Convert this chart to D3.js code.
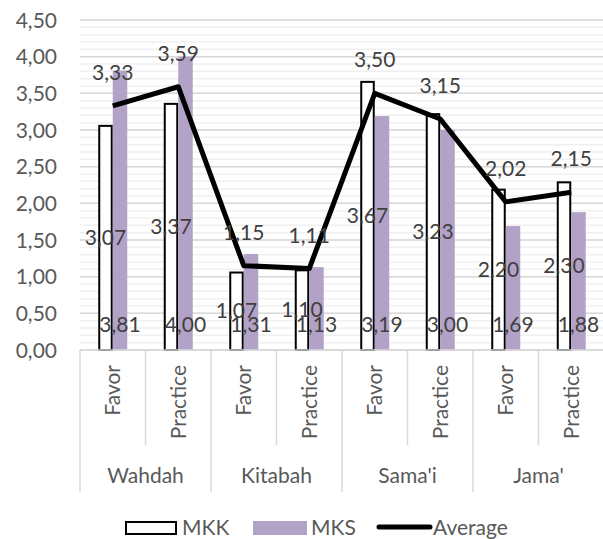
<!DOCTYPE html>
<html>
<head>
<meta charset="utf-8">
<script src="https://cdn.jsdelivr.net/npm/d3@7"></script>
<style>
  body { margin: 0; background: #fff; }
  text { font-family: Lato, "Open Sans", sans-serif; }
</style>
</head>
<body>
<div class="canva"></div>
<script>
// data
const groups = ["Wahdah", "Kitabah", "Sama'i", "Jama'"];
const subs = ["Favor", "Practice"];
const mkk = [3.07, 3.37, 1.07, 1.10, 3.67, 3.23, 2.20, 2.30];
const mks = [3.81, 4.00, 1.31, 1.13, 3.19, 3.00, 1.69, 1.88];
const avg = [3.33, 3.59, 1.15, 1.11, 3.50, 3.15, 2.02, 2.15];
const yTicks = [0, 0.5, 1, 1.5, 2, 2.5, 3, 3.5, 4, 4.5];

// one entry per category slot
const cats = [];
groups.forEach((g, gi) => subs.forEach((s, si) => cats.push({
  key: g + "|" + s, group: g, sub: s, i: gi * 2 + si
})));

const fmt = v => d3.format(".2f")(v).replace(".", ",");

const svg = d3.select(".canva").append("svg")
              .attr("width", 603)
              .attr("height", 539);

// scales
const x = d3.scaleBand().domain(cats.map(d => d.key)).range([80, 604]);
const y = d3.scaleLinear().domain([0, 4.5]).range([350, 20]);
const barW = 14.5;
const cx = i => x(cats[i].key) + x.bandwidth() / 2;

// minor grid every 0.1
svg.append("g").selectAll("line")
   .data(d3.range(0, 46).map(d => d / 10))
   .enter().append("line")
   .attr("x1", 80).attr("x2", 603)
   .attr("y1", d => y(d)).attr("y2", d => y(d))
   .attr("stroke", "#f0f0f0").attr("stroke-width", 1.5);

// major grid
svg.append("g").selectAll("line")
   .data(yTicks)
   .enter().append("line")
   .attr("x1", 80).attr("x2", 603)
   .attr("y1", d => y(d)).attr("y2", d => y(d))
   .attr("stroke", "#d9d9d9").attr("stroke-width", 1.5);

// y axis labels
svg.append("g").selectAll("text")
   .data(yTicks)
   .enter().append("text")
   .text(d => fmt(d))
   .attr("x", 57)
   .attr("y", d => y(d))
   .attr("dy", "0.36em")
   .attr("text-anchor", "end")
   .attr("font-size", 21)
   .attr("fill", "#595959");

// category separators
svg.append("g").selectAll("line")
   .data(d3.range(0, 9))
   .enter().append("line")
   .attr("x1", d => 80 + d * x.bandwidth())
   .attr("x2", d => 80 + d * x.bandwidth())
   .attr("y1", 350)
   .attr("y2", d => d % 2 === 0 ? 492 : 445)
   .attr("stroke", "#d9d9d9").attr("stroke-width", 1.5);

// MKK bars
svg.append("g").selectAll("rect")
   .data(mkk)
   .enter().append("rect")
   .attr("x", (d, i) => cx(i) - barW + 1)
   .attr("y", d => y(d) + 1)
   .attr("width", barW - 2)
   .attr("height", d => y(0) - y(d) - 1)
   .attr("fill", "#fff")
   .attr("stroke", "#000")
   .attr("stroke-width", 2);

// MKS bars
svg.append("g").selectAll("rect")
   .data(mks)
   .enter().append("rect")
   .attr("x", (d, i) => cx(i))
   .attr("y", d => y(d))
   .attr("width", barW)
   .attr("height", d => y(0) - y(d))
   .attr("fill", "#b3a2c7");

// x axis line
svg.append("line")
   .attr("x1", 80).attr("x2", 603)
   .attr("y1", 350).attr("y2", 350)
   .attr("stroke", "#d9d9d9").attr("stroke-width", 1.5);

// average line
const line = d3.line().x((d, i) => cx(i)).y(d => y(d));
svg.append("path")
   .datum(avg)
   .attr("d", line)
   .attr("fill", "none")
   .attr("stroke", "#000")
   .attr("stroke-width", 5)
   .attr("stroke-linejoin", "round");

// data labels
const lab = svg.append("g")
               .attr("font-size", 21)
               .attr("fill", "#404040")
               .attr("text-anchor", "middle");

lab.selectAll(".lk").data(mkk).enter().append("text")
   .text(d => fmt(d))
   .attr("x", (d, i) => cx(i) - barW / 2)
   .attr("y", d => y(d / 2))
   .attr("dy", "0.36em");

lab.selectAll(".ls").data(mks).enter().append("text")
   .text(d => fmt(d))
   .attr("x", (d, i) => cx(i) + barW / 2)
   .attr("y", 332);

lab.selectAll(".la").data(avg).enter().append("text")
   .text(d => fmt(d))
   .attr("x", (d, i) => cx(i))
   .attr("y", d => y(d) - 26);

// category labels (rotated)
svg.append("g").selectAll("text")
   .data(cats)
   .enter().append("text")
   .text(d => d.sub)
   .attr("transform", d => `translate(${cx(d.i)},365) rotate(-90)`)
   .attr("dy", "0.36em")
   .attr("text-anchor", "end")
   .attr("font-size", 21)
   .attr("fill", "#595959");

// group labels
svg.append("g").selectAll("text")
   .data(groups)
   .enter().append("text")
   .text(d => d)
   .attr("x", (d, i) => 80 + (i * 2 + 1) * x.bandwidth())
   .attr("y", 475)
   .attr("dy", "0.36em")
   .attr("text-anchor", "middle")
   .attr("font-size", 21)
   .attr("fill", "#595959");

// legend
const leg = svg.append("g").attr("font-size", 21).attr("fill", "#595959");
leg.append("rect").attr("x", 126).attr("y", 522).attr("width", 50).attr("height", 12)
   .attr("fill", "#fff").attr("stroke", "#000").attr("stroke-width", 2);
leg.append("text").text("MKK").attr("x", 182).attr("y", 535);
leg.append("rect").attr("x", 253).attr("y", 521).attr("width", 54).attr("height", 14)
   .attr("fill", "#b3a2c7");
leg.append("text").text("MKS").attr("x", 311).attr("y", 535);
leg.append("line").attr("x1", 379).attr("x2", 430).attr("y1", 527).attr("y2", 527)
   .attr("stroke", "#000").attr("stroke-width", 5).attr("stroke-linecap", "round");
leg.append("text").text("Average").attr("x", 433).attr("y", 535);
</script>
</body>
</html>
